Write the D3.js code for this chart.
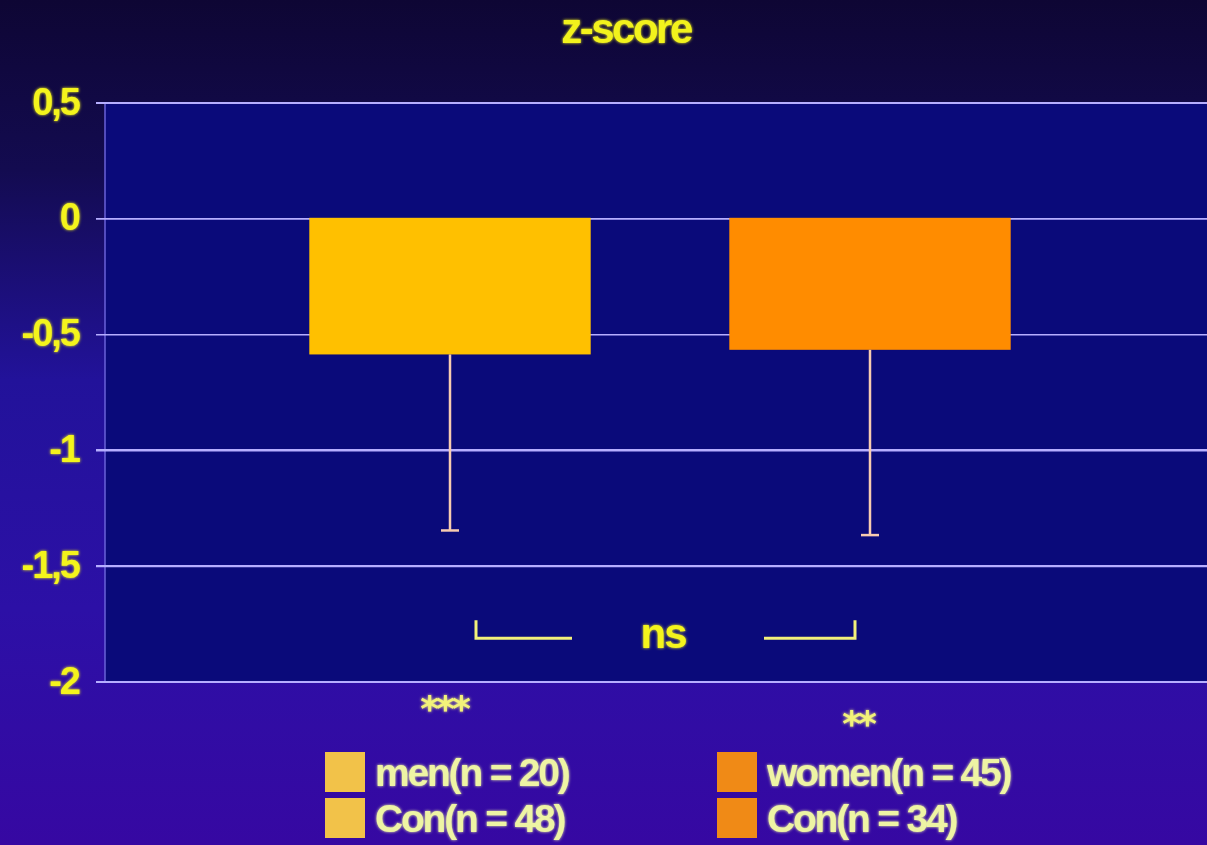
<!DOCTYPE html>
<html>
<head>
<meta charset="utf-8">
<script src="https://cdn.jsdelivr.net/npm/d3@7"></script>
<style>
  html, body { margin: 0; padding: 0; background: #100840; }
  svg { display: block; }
</style>
</head>
<body>
<svg id="chart" width="1207" height="845"></svg>
<script>
// ---- data ----
const groups = ["men", "women"];
const means = [-0.59, -0.57];
const lowerEnds = [-1.35, -1.37];
const stars = ["***", "**"];
const legendRows = [
  ["men(n = 20)", "Con(n = 48)"],
  ["women(n = 45)", "Con(n = 34)"]
];
const yTicks = [0.5, 0, -0.5, -1, -1.5, -2];
const yTickLabels = ["0,5", "0", "-0,5", "-1", "-1,5", "-2"];
const title = "z-score";
const compareLabel = "ns";

// ---- styling ----
const barColors = ["#ffc000", "#ff8c00"];
const swatchColors = ["#f2c24a", "#f08a18"];
const W = 1207, H = 845;
const plot = { left: 105, right: 1207, top: 102, bottom: 681 };
const font = "'Liberation Sans', Arial, Helvetica, sans-serif";

const svg = d3.select("#chart");
const defs = svg.append("defs");

const bg = defs.append("linearGradient").attr("id", "bg")
  .attr("x1", 0).attr("y1", 0).attr("x2", 0).attr("y2", 1);
[[0, "#0e0634"], [0.2, "#130b50"], [0.45, "#22129a"], [0.72, "#2c10a6"], [1, "#3608a2"]]
  .forEach(([o, c]) => bg.append("stop").attr("offset", o).attr("stop-color", c));

const glow = defs.append("filter").attr("id", "glow")
  .attr("x", "-20%").attr("y", "-30%").attr("width", "140%").attr("height", "160%");
glow.append("feGaussianBlur").attr("in", "SourceGraphic").attr("stdDeviation", 1.6).attr("result", "b");
const m = glow.append("feMerge");
m.append("feMergeNode").attr("in", "b");
m.append("feMergeNode").attr("in", "SourceGraphic");

// user-space blur so that zero-height lines are kept
const soft = defs.append("filter").attr("id", "soft")
  .attr("filterUnits", "userSpaceOnUse")
  .attr("x", 0).attr("y", 0).attr("width", W).attr("height", H);
soft.append("feGaussianBlur").attr("stdDeviation", 0.6);

svg.append("rect").attr("width", W).attr("height", H).attr("fill", "url(#bg)");

// plot panel
svg.append("rect")
  .attr("x", plot.left).attr("y", plot.top)
  .attr("width", plot.right - plot.left).attr("height", plot.bottom - plot.top)
  .attr("fill", "#0a0a7a");

// ---- scales ----
const y = d3.scaleLinear().domain([-2, 0.5]).range([plot.bottom, plot.top]);
const x = d3.scaleBand().domain(groups).range([240, 1080]).paddingInner(0.33).paddingOuter(0.165);

// faint left frame line of the panel
svg.append("line")
  .attr("x1", plot.left).attr("x2", plot.left)
  .attr("y1", plot.top).attr("y2", plot.bottom)
  .attr("stroke", "#6a62d8").attr("stroke-width", 1.5);

// gridlines + y axis labels
const yAxis = d3.axisLeft(y)
  .tickValues(yTicks)
  .tickSize(-(plot.right - plot.left) - 9)
  .tickPadding(17)
  .tickFormat((d, i) => yTickLabels[i]);

const gy = svg.append("g")
  .attr("transform", `translate(${plot.left - 9},0)`)
  .call(yAxis);
gy.select(".domain").remove();
gy.selectAll(".tick line")
  .attr("x1", 0).attr("x2", plot.right - plot.left + 9)
  .attr("stroke", "#b6aeff").attr("stroke-width", 3)
  .attr("filter", "url(#soft)");
gy.selectAll(".tick text")
  .attr("x", -17)
  .attr("fill", "#f4f41e")
  .attr("font-family", font)
  .attr("font-weight", "bold")
  .attr("font-size", 38)
  .attr("letter-spacing", -2)
  .attr("filter", "url(#glow)");

// ---- bars ----
svg.selectAll("rect.bar").data(groups).join("rect")
  .attr("class", "bar")
  .attr("x", d => x(d))
  .attr("width", x.bandwidth())
  .attr("y", y(0))
  .attr("height", (d, i) => y(means[i]) - y(0))
  .attr("fill", (d, i) => barColors[i])
  .attr("filter", "url(#soft)");

// error bars (downward)
const err = svg.append("g").attr("stroke", "#f8ccb0").attr("stroke-width", 2.5).attr("filter", "url(#soft)");
groups.forEach((g, i) => {
  const cx = x(g) + x.bandwidth() / 2;
  err.append("line").attr("x1", cx).attr("x2", cx).attr("y1", y(means[i])).attr("y2", y(lowerEnds[i]));
  err.append("line").attr("x1", cx - 9).attr("x2", cx + 9).attr("y1", y(lowerEnds[i])).attr("y2", y(lowerEnds[i]));
});

// ---- title ----
svg.append("text")
  .attr("x", 626).attr("y", 43)
  .attr("text-anchor", "middle")
  .attr("fill", "#f2f21e")
  .attr("font-family", font).attr("font-weight", "bold")
  .attr("font-size", 42).attr("letter-spacing", -2.5)
  .attr("filter", "url(#glow)")
  .text(title);

// ---- comparison bracket ----
const cx0 = x(groups[0]) + x.bandwidth() / 2;
const cx1 = x(groups[1]) + x.bandwidth() / 2;
const brY = y(-1.815);
const br = svg.append("g").attr("stroke", "#f2f07a").attr("stroke-width", 3).attr("fill", "none")
  .attr("filter", "url(#soft)");
br.append("path").attr("d", `M${cx0 + 26},${brY - 18} V${brY} H${cx0 + 122}`);
br.append("path").attr("d", `M${cx1 - 106},${brY} H${cx1 - 15} V${brY - 18}`);
svg.append("text")
  .attr("x", (cx0 + cx1) / 2 + 3).attr("y", brY + 10)
  .attr("text-anchor", "middle")
  .attr("fill", "#f4f41e")
  .attr("font-family", font).attr("font-weight", "bold")
  .attr("font-size", 42).attr("letter-spacing", -2)
  .attr("filter", "url(#glow)")
  .text(compareLabel);

// ---- significance stars ----
const starY = [721, 736];
groups.forEach((g, i) => {
  svg.append("text")
    .attr("x", x(g) + x.bandwidth() / 2 - 6 - i * 6).attr("y", starY[i])
    .attr("text-anchor", "middle")
    .attr("fill", "#f2f27a")
    .attr("font-family", "'DejaVu Sans', sans-serif").attr("font-weight", "bold")
    .attr("font-size", 36).attr("letter-spacing", -3)
    .attr("filter", "url(#glow)")
    .text(stars[i]);
});

// ---- legend ----
const legX = [325, 717];
const legY = [752, 798];
groups.forEach((g, i) => {
  legendRows[i].forEach((label, r) => {
    svg.append("rect")
      .attr("x", legX[i]).attr("y", legY[r])
      .attr("width", 40).attr("height", 40)
      .attr("fill", swatchColors[i])
      .attr("filter", "url(#soft)");
    svg.append("text")
      .attr("x", legX[i] + 50).attr("y", legY[r] + 34)
      .attr("fill", "#eef4a4")
      .attr("font-family", font).attr("font-weight", "bold")
      .attr("font-size", 39).attr("letter-spacing", -2.2)
      .attr("filter", "url(#glow)")
      .text(label);
  });
});
</script>
</body>
</html>
